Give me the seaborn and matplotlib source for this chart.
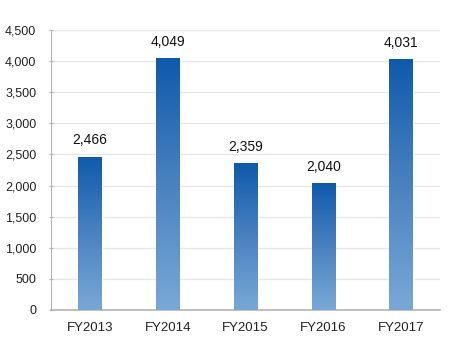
import numpy as np
import matplotlib
matplotlib.use("Agg")
import matplotlib.pyplot as plt
import seaborn as sns
from matplotlib.colors import LinearSegmentedColormap

years = ["FY2013", "FY2014", "FY2015", "FY2016", "FY2017"]
values = [2466, 4049, 2359, 2040, 4031]

sns.set_style("white")
plt.rcParams["font.family"] = ["Liberation Sans", "DejaVu Sans"]

fig = plt.figure(figsize=(4.76, 3.58), dpi=100)
ax = fig.add_axes([51 / 476, 48 / 358, 389 / 476, 280 / 358])

sns.barplot(x=years, y=values, ax=ax, width=0.3, color="#3a78bd", zorder=2)

# vertical gradient inside each bar
cmap = LinearSegmentedColormap.from_list("blu", ["#78a8d6", "#4a82c0", "#0f5aab"])
grad = np.linspace(0, 1, 256).reshape(-1, 1)
for bar in ax.patches:
    x0, y0 = bar.get_x(), bar.get_y()
    w, h = bar.get_width(), bar.get_height()
    im = ax.imshow(grad, cmap=cmap, origin="lower", aspect="auto",
                   extent=[x0, x0 + w, y0, y0 + h], zorder=3)
    im.set_clip_path(bar)
    bar.set_facecolor("none")

for i, v in enumerate(values):
    ax.text(i, v + 150, f"{v:,}", ha="center", va="bottom", fontsize=10, color="#111111")

ax.set_xlim(-0.5, 4.5)
ax.set_ylim(0, 4500)
ax.set_yticks(range(0, 4501, 500))
ax.set_yticklabels([f"{t:,}" for t in range(0, 4501, 500)])
ax.yaxis.grid(True, color="#e6e6e6", linewidth=1, zorder=0)
ax.set_axisbelow(True)

for s in ["top", "right"]:
    ax.spines[s].set_visible(False)
ax.spines["left"].set_color("#b4b4b4")
ax.spines["bottom"].set_color("#b4b4b4")
ax.spines["bottom"].set_linewidth(1.2)
ax.tick_params(axis="y", left=True, length=3, direction="inout", color="#b4b4b4",
               labelsize=9, labelcolor="#222222", pad=9)
ax.tick_params(axis="x", bottom=False, labelsize=9.5, labelcolor="#222222", pad=5)

fig.savefig("out.png", dpi=100)
